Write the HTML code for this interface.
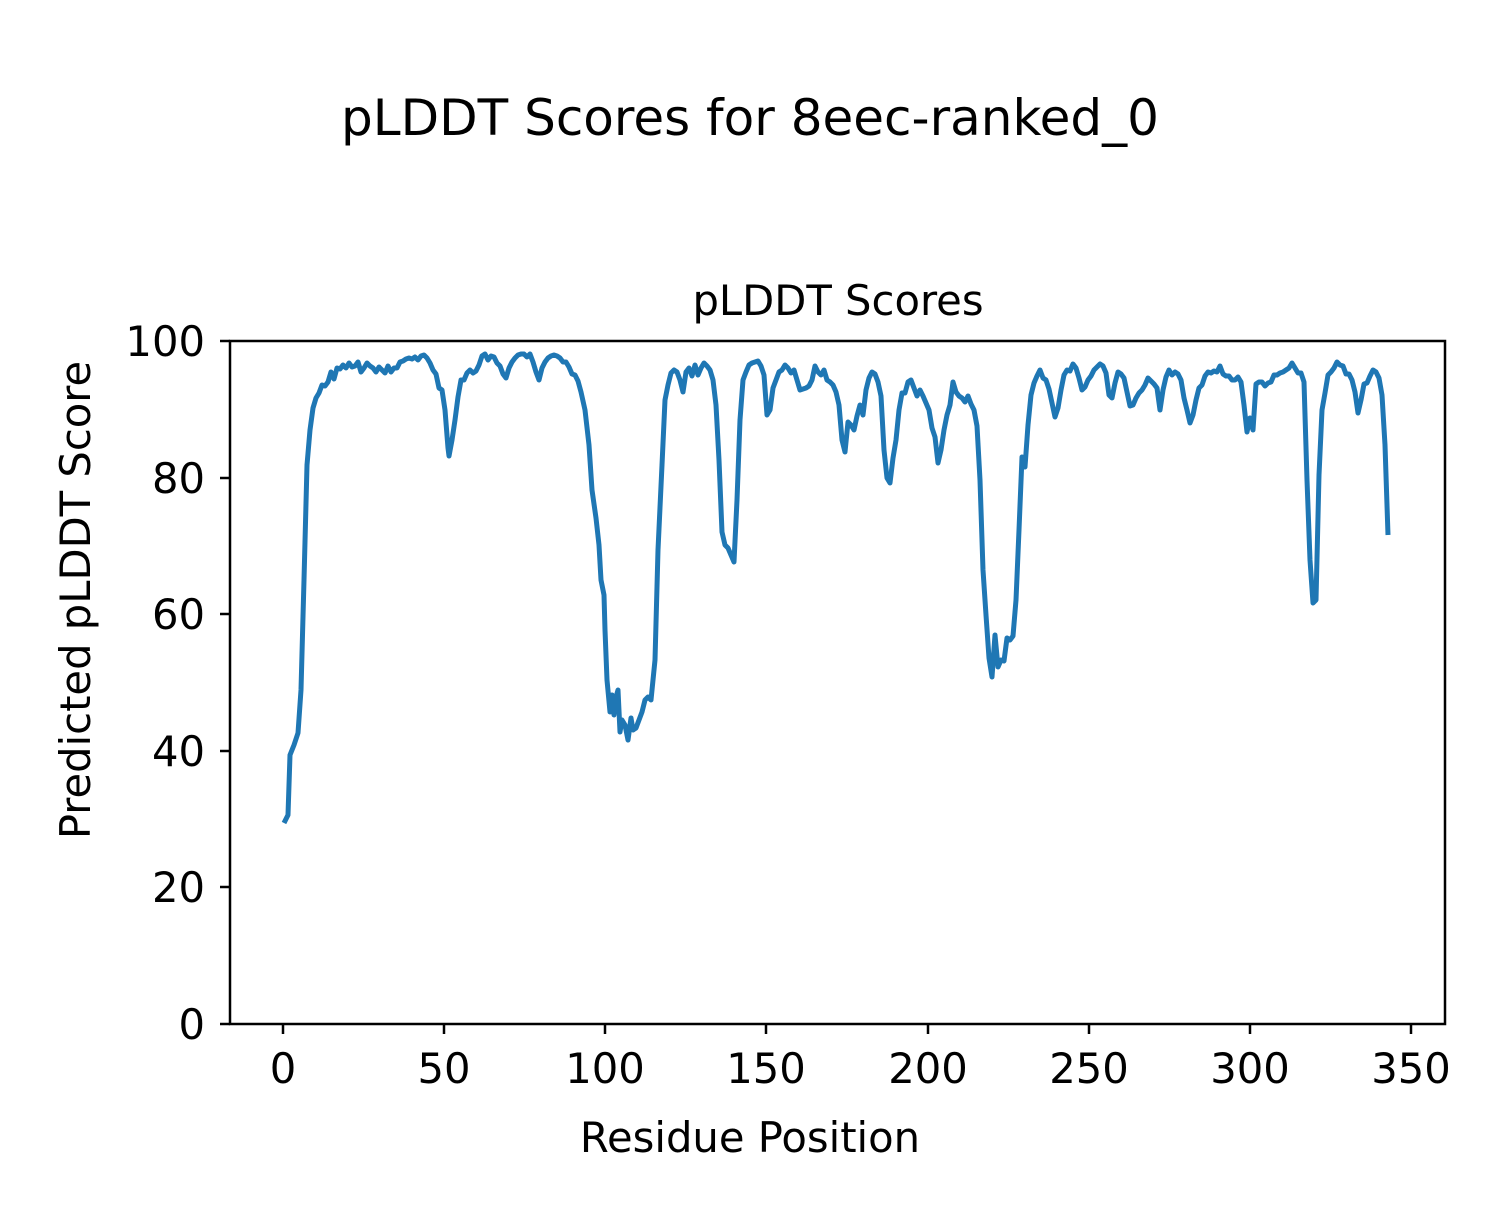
<!DOCTYPE html>
<html><head><meta charset="utf-8"><style>
html,body{margin:0;padding:0;background:#fff;}
text{font-family:"DejaVu Sans","Liberation Sans",sans-serif;fill:#000;}
</style></head><body>
<svg width="1500" height="1200" xmlns="http://www.w3.org/2000/svg">
<rect width="1500" height="1200" fill="#fff"/>
<text x="750" y="135" font-size="50" text-anchor="middle">pLDDT Scores for 8eec-ranked_0</text>
<text x="838" y="315" font-size="41.7" text-anchor="middle">pLDDT Scores</text>
<polyline fill="none" stroke="#1f77b4" stroke-width="5" stroke-linejoin="round" points="284,823 288,815 290,755 294,745 298,733 301,690 304,580 307,465 310,430 313,408 316,398 319,393 322,385 325,386 328,382 331,372 334,379 337,368 340,369 343,365 346,368 349,363 352,367 355,366 358,362 361,372 364,368 367,363 370,366 373,368 376,372 379,367 382,370 385,373 388,366 391,372 394,368 397,368 400,362 403,361 406,359 409,358 412,359 415,357 418,360 421,356 424,355 427,358 430,363 433,370 436,374 439,388 442,390 445,410 448,448 449,456 452,440 455,420 458,397 461,380 464,380 467,373 470,370 473,373 476,371 479,365 482,356 485,354 488,360 491,356 494,357 497,363 500,366 503,374 506,378 509,368 512,362 515,358 518,355 521,354 524,354 527,357 530,354 533,362 536,372 539,380 542,368 545,362 548,358 551,356 554,355 557,356 560,358 563,362 566,362 569,367 572,374 575,375 578,381 581,392 585,410 589,445 592,490 596,518 599,545 601,580 604,595 605,630 607,680 610,712 612,695 614,715 616,697 618,690 620,732 622,720 625,725 628,740 631,718 633,730 636,728 639,720 642,712 645,700 648,697 651,700 655,660 658,550 662,465 665,400 668,385 671,373 674,370 677,372 680,380 683,392 686,372 689,368 692,376 695,365 698,375 701,368 704,363 707,366 710,370 713,380 716,405 719,460 722,532 725,545 728,548 731,555 734,562 737,500 740,420 743,380 746,372 749,365 752,363 755,362 758,361 761,366 764,375 767,415 770,410 773,388 776,380 779,372 782,370 785,365 788,368 791,373 794,370 797,380 800,390 803,389 806,388 809,386 812,380 815,366 818,372 821,375 824,370 827,380 830,382 833,385 836,392 839,405 842,440 845,452 848,422 851,425 854,430 857,416 860,405 863,415 866,390 869,378 872,372 875,374 878,382 881,396 884,450 887,478 890,483 893,458 896,440 899,410 902,393 905,393 908,382 911,380 914,388 917,396 920,390 923,396 926,403 929,410 932,428 935,437 938,463 941,450 944,430 947,415 950,405 953,382 956,392 959,396 962,398 965,402 968,396 971,404 974,410 977,426 980,480 983,570 986,615 989,658 992,677 995,635 998,667 1001,660 1004,661 1007,638 1010,640 1013,636 1016,600 1019,530 1022,457 1025,467 1028,425 1031,395 1034,383 1037,376 1040,370 1043,378 1046,380 1049,389 1052,403 1055,417 1058,408 1061,390 1064,375 1067,370 1070,371 1073,364 1076,368 1079,378 1082,390 1085,387 1088,380 1091,376 1094,370 1097,367 1100,364 1103,366 1106,373 1109,395 1112,398 1115,383 1118,372 1121,374 1124,378 1127,392 1130,406 1133,405 1136,398 1139,393 1142,390 1145,385 1148,378 1151,381 1154,384 1157,388 1160,410 1163,390 1166,377 1169,370 1172,375 1175,372 1178,374 1181,380 1184,398 1187,410 1190,423 1193,415 1196,400 1199,388 1202,385 1205,376 1208,372 1211,373 1214,371 1217,372 1220,366 1223,374 1226,376 1229,376 1232,380 1235,380 1238,377 1241,382 1244,405 1247,432 1250,418 1253,430 1256,384 1259,382 1262,382 1265,386 1268,383 1271,382 1274,375 1277,375 1280,373 1283,372 1286,370 1289,368 1292,363 1295,368 1298,373 1301,373 1304,382 1307,480 1310,560 1313,603 1316,600 1319,475 1322,410 1325,393 1328,375 1331,372 1334,368 1337,362 1340,365 1343,366 1346,374 1349,374 1352,380 1355,392 1358,413 1361,400 1364,384 1367,383 1370,376 1373,370 1376,372 1379,378 1382,395 1385,445 1388,535"/>
<rect x="230" y="341" width="1215" height="683" fill="none" stroke="#000" stroke-width="2.5"/>
<g stroke="#000" stroke-width="2.5">
<line x1="283" y1="1024" x2="283" y2="1034"/><line x1="444" y1="1024" x2="444" y2="1034"/><line x1="605" y1="1024" x2="605" y2="1034"/><line x1="766" y1="1024" x2="766" y2="1034"/><line x1="928" y1="1024" x2="928" y2="1034"/><line x1="1089" y1="1024" x2="1089" y2="1034"/><line x1="1250" y1="1024" x2="1250" y2="1034"/><line x1="1411" y1="1024" x2="1411" y2="1034"/>
<line x1="220" y1="1024" x2="230" y2="1024"/><line x1="220" y1="887" x2="230" y2="887"/><line x1="220" y1="751" x2="230" y2="751"/><line x1="220" y1="614" x2="230" y2="614"/><line x1="220" y1="478" x2="230" y2="478"/><line x1="220" y1="341" x2="230" y2="341"/>
</g>
<g font-size="41.7" text-anchor="middle">
<text x="283" y="1083">0</text><text x="444" y="1083">50</text><text x="605" y="1083">100</text><text x="766" y="1083">150</text><text x="928" y="1083">200</text><text x="1089" y="1083">250</text><text x="1250" y="1083">300</text><text x="1411" y="1083">350</text>
</g>
<g font-size="41.7" text-anchor="end">
<text x="205" y="1039">0</text><text x="205" y="902">20</text><text x="205" y="766">40</text><text x="205" y="629">60</text><text x="205" y="493">80</text><text x="205" y="356">100</text>
</g>
<text x="750" y="1152" font-size="41.7" text-anchor="middle">Residue Position</text>
<text x="0" y="0" font-size="41.7" text-anchor="middle" transform="translate(90,600) rotate(-90)">Predicted pLDDT Score</text>
</svg>
</body></html>
